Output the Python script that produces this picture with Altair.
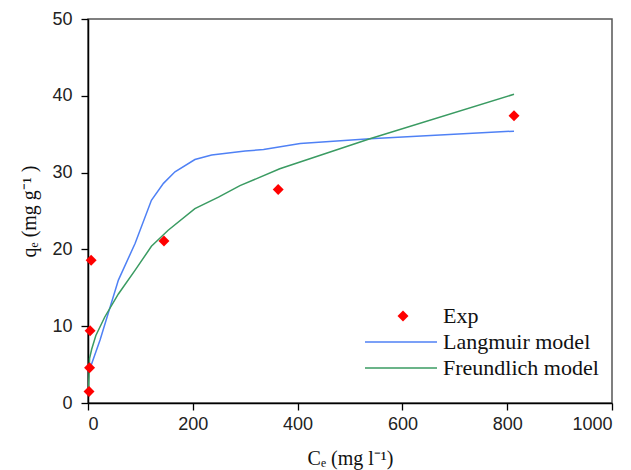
import altair as alt
import pandas as pd

# Experimental data
exp_ce = [2, 3, 4, 6, 145, 363, 813]
exp_qe = [1.5, 4.6, 9.4, 18.6, 21.1, 27.8, 37.4]

# Langmuir model curve
lang_ce = [6, 23, 58, 90, 121, 144, 166, 204, 236, 300, 335, 405, 538, 813]
lang_qe = [4.9, 8.2, 16.0, 20.8, 26.4, 28.6, 30.1, 31.7, 32.3, 32.8, 33.0, 33.8, 34.4, 35.4]

# Freundlich model curve
freu_ce = [1, 3, 7, 15, 32, 58, 90, 121, 153, 204, 249, 290, 366, 538, 813]
freu_qe = [1.8, 5.8, 7.0, 8.8, 11.2, 14.2, 17.3, 20.4, 22.5, 25.3, 26.8, 28.3, 30.5, 34.4, 40.2]

x_ticks = [0, 200, 400, 600, 800, 1000]
y_ticks = [0, 10, 20, 30, 40, 50]

legend_labels = ["Exp", "Langmuir model", "Freundlich model"]

RED = "#ff0000"
BLUE = "#4f81f5"
GREEN = "#3a9b62"
SERIF = "Liberation Serif"

exp_df = pd.DataFrame({"ce": exp_ce, "qe": exp_qe})
lang_df = pd.DataFrame({"ce": lang_ce, "qe": lang_qe})
freu_df = pd.DataFrame({"ce": freu_ce, "qe": freu_qe})

W, H = 524, 384

xenc = alt.X(
    "ce:Q",
    scale=alt.Scale(domain=[0, 1000], nice=False, zero=False),
    axis=alt.Axis(
        values=x_ticks,
        format="d",
        title="Cₑ (mg l⁻¹)",
        titleFont=SERIF,
        titleFontSize=20,
        titleFontWeight="normal",
        titleColor="#111",
        titleY=55,
        titleBaseline="middle",
        labelPadding=5,
    ),
)
yenc = alt.Y(
    "qe:Q",
    scale=alt.Scale(domain=[0, 50], nice=False, zero=False),
    axis=alt.Axis(
        values=y_ticks,
        format="d",
        title="qₑ (mg g⁻¹ )",
        titleFont=SERIF,
        titleFontSize=20,
        titleFontWeight="normal",
        titleColor="#111",
        titleAngle=270,
        titleX=-59,
        titleY=H / 2,
        titleBaseline="middle",
        titleAlign="center",
        labelPadding=9,
    ),
)

lang_line = alt.Chart(lang_df).mark_line(color=BLUE, strokeWidth=1.5).encode(
    x=xenc, y=yenc
)
freu_line = alt.Chart(freu_df).mark_line(color=GREEN, strokeWidth=1.5).encode(
    x="ce:Q", y="qe:Q"
)
points = alt.Chart(exp_df).mark_point(
    shape="diamond", filled=True, color=RED, size=120, opacity=1
).encode(x="ce:Q", y="qe:Q")

# Manual legend (decoration)
lx_sym = 315
lx_line0, lx_line1 = 277, 349
lx_text = 355
ly = [297, 323, 349]

leg_pt = alt.Chart(pd.DataFrame({"label": [legend_labels[0]]})).mark_point(
    shape="diamond", filled=True, color=RED, size=120, opacity=1
).encode(x=alt.value(lx_sym), y=alt.value(ly[0]))
leg_blue = alt.Chart(pd.DataFrame({"label": [legend_labels[1]]})).mark_rule(
    color=BLUE, strokeWidth=1.5
).encode(x=alt.value(lx_line0), x2=alt.value(lx_line1), y=alt.value(ly[1]))
leg_green = alt.Chart(pd.DataFrame({"label": [legend_labels[2]]})).mark_rule(
    color=GREEN, strokeWidth=1.5
).encode(x=alt.value(lx_line0), x2=alt.value(lx_line1), y=alt.value(ly[2]))

texts = []
for lab, yy in zip(legend_labels, ly):
    texts.append(
        alt.Chart(pd.DataFrame({"label": [lab]})).mark_text(
            align="left", baseline="middle", font=SERIF, fontSize=22, color="#111"
        ).encode(x=alt.value(lx_text), y=alt.value(yy), text="label:N")
    )

chart = alt.layer(
    lang_line, freu_line, points, leg_pt, leg_blue, leg_green, *texts
).properties(
    width=W,
    height=H,
    autosize=alt.AutoSizeParams(type="none"),
    padding={"left": 88, "top": 19, "right": 19, "bottom": 67},
).configure_view(
    stroke="#555", strokeWidth=1.5
).configure_axis(
    grid=False,
    domainColor="#000",
    domainWidth=1.5,
    tickColor="#000",
    tickWidth=1.3,
    tickSize=7,
    labelFont="Liberation Sans",
    labelFontSize=18,
    labelColor="#222",
)

chart.save("out.html", embed_options={"renderer": "svg", "actions": False})
